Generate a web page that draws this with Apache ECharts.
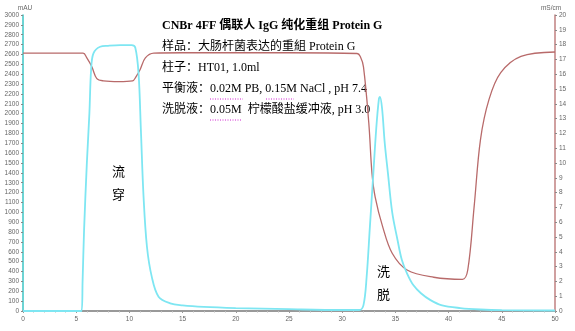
<!DOCTYPE html>
<html><head><meta charset="utf-8">
<script src="https://cdn.jsdelivr.net/npm/echarts@6/dist/echarts.min.js"></script>
<style>html,body{margin:0;padding:0;background:#fff}#c{width:575px;height:331px}</style>
</head><body><div id="c"></div>
<script>
// UV absorbance (mAU) vs volume (ml)
const uvTime  = [0, 5.5, 5.6, 5.74, 6.0, 6.24, 6.4, 6.62, 7.25, 8, 9.13, 10.2, 10.55, 10.86, 11.08, 11.33, 11.65, 12.1, 12.74, 13.84, 15, 17, 20, 25, 30, 31.6, 32.0, 32.3, 32.6, 32.9, 33.2, 33.45, 33.55, 33.75, 34.0, 34.3, 34.7, 35.2, 35.6, 36.1, 36.7, 37.4, 38.3, 39.3, 41.1, 43, 45, 50];
const uvValue = [0, 0, 300, 820, 1496, 2003, 2442, 2611, 2678, 2688, 2695, 2695, 2670, 2408, 1834, 1158, 651, 348, 145, 78, 58, 42, 30, 18, 10, 10, 60, 350, 850, 1350, 1850, 2150, 2171, 2050, 1700, 1395, 1000, 720, 520, 380, 260, 180, 110, 60, 30, 15, 8, 5];
// Conductivity (mS/cm)
const condTime  = [0, 5.65, 6.0, 6.47, 6.94, 7.56, 9, 10.3, 10.6, 11.0, 11.5, 12.3, 15, 20, 25, 31.4, 31.7, 32.0, 32.5, 32.8, 33.1, 33.8, 34.7, 36.1, 38.6, 41.3, 41.8, 42.4, 43.0, 43.8, 44.9, 46.8, 50];
const condValue = [17.42, 17.42, 17.1, 16.5, 15.7, 15.55, 15.5, 15.55, 15.8, 16.3, 17.1, 17.42, 17.45, 17.45, 17.45, 17.4, 17.2, 16.5, 12.7, 9.3, 7.7, 5.7, 3.9, 2.77, 2.28, 2.14, 2.77, 7.05, 11.6, 14.3, 16.1, 17.2, 17.5];

const titleText = 'CNBr 4FF 偶联人 IgG 纯化重组 Protein G';
const infoLines = ['样品：大肠杆菌表达的重組 Protein G', '柱子：HT01, 1.0ml', '平衡液：0.02M PB, 0.15M NaCl , pH 7.4', '洗脱液：0.05M  柠檬酸盐缓冲液, pH 3.0'];
const peakLabels = [['流', '穿'], ['洗', '脱']];

const chart = echarts.init(document.getElementById('c'));
const serif = '"Liberation Serif","Times New Roman","Noto Sans CJK SC",serif';
const lbl = {fontSize: 6.5, color: '#666', fontFamily: 'Arial, sans-serif', formatter: v => String(v)};

const graphics = [
  {type: 'text', left: 162, top: 20, style: {text: titleText, font: 'bold 12px ' + serif, fill: '#000'}}
];
infoLines.forEach((t, i) => {
  graphics.push({type: 'text', left: 162, top: 41 + i * 20.8, style: {text: t, font: '12px ' + serif, fill: '#000'}});
});
// spellcheck-style dotted underlines
[[210, 243, 99], [266, 294, 99], [210, 241, 120]].forEach(u => {
  graphics.push({type: 'line', shape: {x1: u[0], y1: u[2], x2: u[1], y2: u[2]}, style: {stroke: '#d020d0', lineWidth: 1, lineDash: [1, 1.5]}});
});
[[112, 165], [377, 265]].forEach((p, k) => {
  peakLabels[k].forEach((ch, j) => {
    graphics.push({type: 'text', left: p[0], top: p[1] + j * 23, style: {text: ch, font: '13px "Noto Sans CJK SC",sans-serif', fill: '#000'}});
  });
});

chart.setOption({
  animation: false,
  grid: {left: 23, right: 20, top: 15, bottom: 20},
  xAxis: {
    type: 'value', min: 0, max: 50, interval: 5,
    axisLine: {lineStyle: {color: '#999', width: 2}},
    axisTick: {show: true, length: 2, lineStyle: {color: '#999'}},
    minorTick: {show: true, splitNumber: 5, length: 1.5, lineStyle: {color: '#bbb'}},
    splitLine: {show: false},
    axisLabel: Object.assign({margin: 5}, lbl)
  },
  yAxis: [
    {
      type: 'value', min: 0, max: 3000, interval: 100, position: 'left',
      name: 'mAU', nameGap: 2, nameTextStyle: {fontSize: 6.5, color: '#666', align: 'center', padding: [0, 0, 0, 4]},
      axisLine: {show: true, lineStyle: {color: '#3cc6c6', width: 1.5}},
      axisTick: {show: true, length: 2, lineStyle: {color: '#888'}},
      splitLine: {show: false},
      axisLabel: Object.assign({margin: 4}, lbl)
    },
    {
      type: 'value', min: 0, max: 20, interval: 1, position: 'right',
      name: 'mS/cm', nameGap: 2, nameTextStyle: {fontSize: 6.5, color: '#666', align: 'center', padding: [0, 0, 0, -8]},
      axisLine: {show: true, lineStyle: {color: '#c08080', width: 1.5}},
      axisTick: {show: true, length: 2, lineStyle: {color: '#888'}},
      splitLine: {show: false},
      axisLabel: Object.assign({margin: 4}, lbl)
    }
  ],
  series: [
    {
      type: 'line', yAxisIndex: 1, showSymbol: false, smooth: 0.35,
      data: condTime.map((t, i) => [t, condValue[i]]),
      lineStyle: {color: '#b86a6a', width: 1.3}, z: 2
    },
    {
      type: 'line', yAxisIndex: 0, showSymbol: false, smooth: 0.35,
      data: uvTime.map((t, i) => [t, uvValue[i]]),
      lineStyle: {color: '#7ee6f2', width: 1.8}, z: 3
    }
  ],
  graphic: graphics
});
</script>
</body></html>
